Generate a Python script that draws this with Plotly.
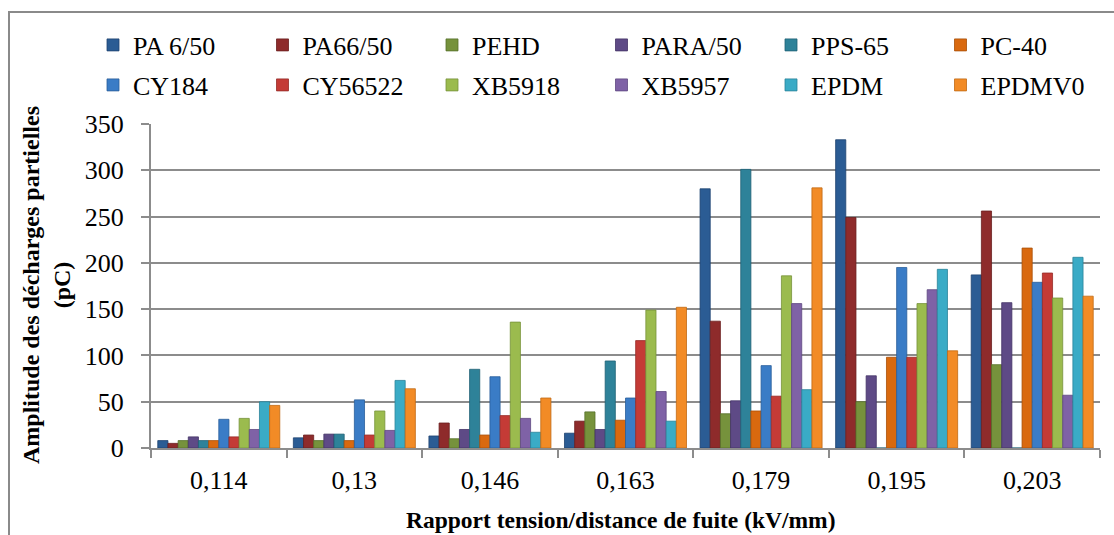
import plotly.graph_objects as go

categories = ["0,114", "0,13", "0,146", "0,163", "0,179", "0,195", "0,203"]

series_names = ["PA 6/50", "PA66/50", "PEHD", "PARA/50", "PPS-65", "PC-40",
                "CY184", "CY56522", "XB5918", "XB5957", "EPDM", "EPDMV0"]

pa6_50   = [8, 11, 13, 16, 280, 333, 187]
pa66_50  = [5, 14, 27, 29, 137, 249, 256]
pehd     = [8, 8, 10, 39, 37, 50, 90]
para_50  = [12, 15, 20, 20, 51, 78, 157]
pps_65   = [8, 15, 85, 94, 301, 0, 0]
pc_40    = [8, 8, 14, 30, 40, 98, 216]
cy184    = [31, 52, 77, 54, 89, 195, 179]
cy56522  = [12, 14, 35, 116, 56, 98, 189]
xb5918   = [32, 40, 136, 149, 186, 156, 162]
xb5957   = [20, 19, 32, 61, 156, 171, 57]
epdm     = [50, 73, 17, 29, 63, 193, 206]
epdmv0   = [46, 64, 54, 152, 281, 105, 164]

values = [pa6_50, pa66_50, pehd, para_50, pps_65, pc_40,
          cy184, cy56522, xb5918, xb5957, epdm, epdmv0]

colors = ["#2B5C94", "#8E2B2B", "#76923C", "#5E4A86", "#2E8299", "#D9690F",
          "#3A7CC6", "#C43B36", "#9BBB4E", "#7F62A6", "#3AABC6", "#F28B26"]
edges = ["#1E4270", "#6A1E1E", "#56702A", "#443366", "#1F6175", "#A84F08",
         "#2A5E9A", "#962B27", "#76923A", "#5E4880", "#2A8399", "#C06A14"]

FONT = "Times New Roman, Liberation Serif, serif"
GRID = "#8C8C8C"

W, H = 1114, 535
ml, mr, mt, mb = 151, 14, 124, 87
pw = W - ml - mr
ph = H - mt - mb

def px_x(x):
    return (x - ml) / pw

def px_y(y):
    return (H - mb - y) / ph

fig = go.Figure()
for i, (name, vals, c, e) in enumerate(zip(series_names, values, colors, edges)):
    fig.add_trace(go.Bar(
        name=name, x=categories, y=vals,
        marker=dict(color=c, line=dict(color=e, width=0.8)),
        legend="legend" if i < 6 else "legend2",
    ))

legend_common = dict(
    orientation="h", xanchor="left", yanchor="middle",
    font=dict(family=FONT, size=26, color="black"),
    entrywidth=124.5, entrywidthmode="pixels",
    bgcolor="rgba(0,0,0,0)", traceorder="normal",
)

fig.update_layout(
    width=W, height=H,
    margin=dict(l=ml, r=mr, t=mt, b=mb, autoexpand=False),
    paper_bgcolor="white", plot_bgcolor="white",
    barmode="group", bargap=0.1, bargroupgap=0,
    font=dict(family=FONT, size=26, color="black"),
    legend=dict(x=px_x(93), y=px_y(45), **legend_common),
    legend2=dict(x=px_x(93), y=px_y(85), **legend_common),
    xaxis=dict(
        showgrid=False, showline=True, linecolor=GRID, linewidth=2,
        ticks="outside", tickson="boundaries", ticklen=8, tickcolor=GRID, tickwidth=2,
        tickfont=dict(family=FONT, size=26, color="black"),
        ticklabelstandoff=8,
    ),
    yaxis=dict(
        range=[0, 350], tickmode="array", tickvals=[0, 50, 100, 150, 200, 250, 300, 350],
        showgrid=True, gridcolor=GRID, gridwidth=2,
        showline=True, linecolor=GRID, linewidth=2,
        ticks="outside", ticklen=8, tickcolor=GRID, tickwidth=2,
        tickfont=dict(family=FONT, size=26, color="black"),
        ticklabelstandoff=12,
        zeroline=False,
    ),
    showlegend=True,
)

fig.add_annotation(
    text="<b>Amplitude des décharges partielles<br>(pC)</b>",
    textangle=-90, xref="paper", yref="paper",
    x=px_x(46), y=px_y(285), xanchor="center", yanchor="middle",
    showarrow=False, font=dict(family=FONT, size=24, color="black"),
)
fig.add_annotation(
    text="<b>Rapport tension/distance de fuite (kV/mm)</b>",
    xref="paper", yref="paper",
    x=px_x(621), y=px_y(520), xanchor="center", yanchor="middle",
    showarrow=False, font=dict(family=FONT, size=23.5, color="black"),
)

fig.add_shape(
    type="rect", xref="paper", yref="paper",
    x0=px_x(9), x1=px_x(1130), y0=px_y(12), y1=px_y(560),
    line=dict(color="#8A8A8A", width=2), fillcolor="rgba(0,0,0,0)", layer="below",
)

fig.write_html(
    "out.html",
    config={"displayModeBar": False},
    post_script="document.body.style.margin='0';document.body.style.overflow='hidden';",
)
